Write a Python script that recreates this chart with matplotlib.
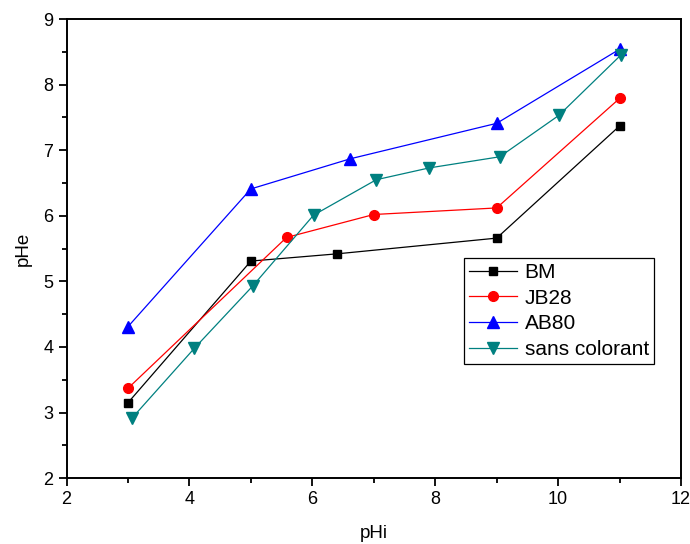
import matplotlib
matplotlib.use("Agg")
import matplotlib.pyplot as plt
from matplotlib.ticker import MultipleLocator

plt.rcParams['font.family'] = ['Liberation Sans', 'DejaVu Sans']

# pHe vs pHi for each dye
bm_x = [3, 5, 6.4, 9, 11]
bm_y = [3.15, 5.31, 5.42, 5.66, 7.37]

jb28_x = [3, 5.58, 7, 9, 11]
jb28_y = [3.37, 5.67, 6.02, 6.12, 7.79]

ab80_x = [3, 5, 6.62, 9, 11]
ab80_y = [4.31, 6.41, 6.87, 7.41, 8.54]

sc_x = [3.06, 4.08, 5.03, 6.02, 7.04, 7.9, 9.05, 10.01, 11.02]
sc_y = [2.91, 3.98, 4.93, 6.01, 6.55, 6.73, 6.9, 7.53, 8.45]

fig = plt.figure(figsize=(6.9, 5.44), dpi=100)
ax = fig.add_axes([0.0964, 0.121, 0.8906, 0.844])

ax.plot(bm_x, bm_y, color='black', lw=0.9, marker='s', ms=6, label='BM')
ax.plot(jb28_x, jb28_y, color='#ff0000', lw=0.9, marker='o', ms=7, label='JB28')
ax.plot(ab80_x, ab80_y, color='#0000ff', lw=0.9, marker='^', ms=9, label='AB80')
ax.plot(sc_x, sc_y, color='#008080', lw=0.9, marker='v', ms=9, label='sans colorant')

ax.set_xlim(2, 12)
ax.set_ylim(2, 9)
ax.xaxis.set_major_locator(MultipleLocator(2))
ax.xaxis.set_minor_locator(MultipleLocator(1))
ax.yaxis.set_major_locator(MultipleLocator(1))
ax.yaxis.set_minor_locator(MultipleLocator(0.5))
ax.tick_params(which='major', direction='out', length=6, width=1.3, labelsize=13)
ax.tick_params(which='minor', direction='out', length=3.5, width=1.3)
for s in ax.spines.values():
    s.set_linewidth(1.4)

ax.set_xlabel('pHi', fontsize=13.5, labelpad=12)
ax.set_ylabel('pHe', fontsize=13.5, labelpad=8)

leg = ax.legend(loc='upper right', bbox_to_anchor=(0.956, 0.48), fontsize=15,
                frameon=True, fancybox=False, edgecolor='black', framealpha=1,
                handlelength=2.3, labelspacing=0.32, borderpad=0.25,
                handletextpad=0.35, borderaxespad=0)
leg.get_frame().set_linewidth(0.9)

fig.savefig('out.png', dpi=100)
